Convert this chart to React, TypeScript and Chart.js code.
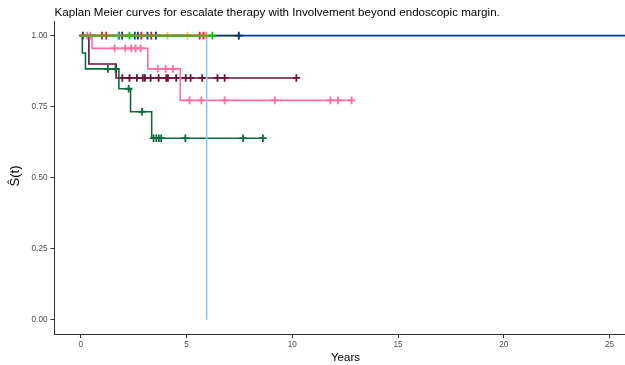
import React, { useEffect, useRef } from "react";
import { Chart, registerables } from "chart.js";

Chart.register(...registerables);

const titleText = "Kaplan Meier curves for escalate therapy with Involvement beyond endoscopic margin.";
const xAxisTitle = "Years";
const yAxisTitle = "Ŝ(t)";
const xTicks = [0, 5, 10, 15, 20, 25];
const yTicks = [0, 0.25, 0.5, 0.75, 1.0];

// each curve: event times + survival after event, censor times, end time
const greenEvents: number[] = [];
const greenSurv: number[] = [];
const greenCensor = [2.3, 6.22];
const greenEnd = 6.25;

const redEvents: number[] = [];
const redSurv: number[] = [];
const redCensor = [1.0, 1.2, 2.86, 3.33, 5.62, 5.8];
const redEnd = 5.8;

const yellowEvents: number[] = [];
const yellowSurv: number[] = [];
const yellowCensor = [4.1, 5.05, 7.47];
const yellowEnd = 7.47;

const blueEvents: number[] = [];
const blueSurv: number[] = [];
const blueCensor = [1.8, 1.95, 2.55, 2.7, 3.15, 3.55, 7.47];
const blueEnd = 26.2;

const skyEvents = [5.95];
const skySurv = [0];
const skyCensor = [1.75];
const skyEnd = 5.95;

const salmonEvents: number[] = [];
const salmonSurv: number[] = [];
const salmonCensor = [5.93];
const salmonEnd = 5.93;

const pinkEvents = [0.53, 3.17, 4.7];
const pinkSurv = [0.955, 0.883, 0.772];
const pinkCensor = [0.3, 0.45, 1.6, 2.1, 2.38, 2.59, 2.83, 3.64, 4.01, 4.35, 5.14, 5.7, 6.8, 9.17, 11.8, 12.16, 12.8];
const pinkEnd = 12.8;

const maroonEvents = [0.38, 1.67];
const maroonSurv = [0.9, 0.851];
const maroonCensor = [0.1, 1.96, 2.3, 2.65, 2.93, 3.03, 3.3, 3.68, 4.04, 4.12, 4.51, 4.96, 5.19, 5.74, 6.46, 6.8, 10.19];
const maroonEnd = 10.19;

const dgreenEvents = [0.07, 0.22, 1.8, 2.35, 3.35];
const dgreenSurv = [0.939, 0.883, 0.813, 0.732, 0.639];
const dgreenCensor = [1.28, 1.64, 2.26, 2.89, 3.44, 3.57, 3.69, 3.8, 4.94, 7.67, 8.61];
const dgreenEnd = 8.61;

type Curve = { ev: number[]; sv: number[]; cs: number[]; end: number; color: string; order: number };

const curves: Curve[] = [
  { ev: greenEvents, sv: greenSurv, cs: greenCensor, end: greenEnd, color: "#00CC00", order: 0 },
  { ev: salmonEvents, sv: salmonSurv, cs: salmonCensor, end: salmonEnd, color: "#FA8072", order: 1 },
  { ev: skyEvents, sv: skySurv, cs: skyCensor, end: skyEnd, color: "#87CEEB", order: 2 },
  { ev: redEvents, sv: redSurv, cs: redCensor, end: redEnd, color: "#EE1111", order: 3 },
  { ev: blueEvents, sv: blueSurv, cs: blueCensor, end: blueEnd, color: "#003399", order: 4 },
  { ev: yellowEvents, sv: yellowSurv, cs: yellowCensor, end: yellowEnd, color: "#F5C242", order: 5 },
  { ev: pinkEvents, sv: pinkSurv, cs: pinkCensor, end: pinkEnd, color: "#FF6F9F", order: 6 },
  { ev: dgreenEvents, sv: dgreenSurv, cs: dgreenCensor, end: dgreenEnd, color: "#0B6B3A", order: 7 },
  { ev: maroonEvents, sv: maroonSurv, cs: maroonCensor, end: maroonEnd, color: "#6B1238", order: 8 },
];

function survAt(c: Curve, t: number) {
  let s = 1;
  for (let i = 0; i < c.ev.length; i++) if (c.ev[i] <= t) s = c.sv[i];
  return s;
}

const LEFT = 54.5, TOP = 21.4, BOTTOM = 334, W = 625, H = 365;

const textPlugin = {
  id: "texts",
  afterDraw(chart: any) {
    const ctx = chart.ctx;
    ctx.save();
    ctx.fillStyle = "#000";
    ctx.font = "11.6px 'Liberation Sans', Arial, sans-serif";
    ctx.textAlign = "left";
    ctx.textBaseline = "alphabetic";
    ctx.fillText(titleText, 54.5, 16);
    ctx.font = "11.5px 'Liberation Sans', Arial, sans-serif";
    ctx.textAlign = "center";
    ctx.fillText(xAxisTitle, 345.5, 361);
    ctx.translate(19, 176);
    ctx.rotate(-Math.PI / 2);
    ctx.font = "13px 'Liberation Sans', Arial, sans-serif";
    ctx.fillText(yAxisTitle, 0, 0);
    ctx.restore();
  },
};

export default function App() {
  const ref = useRef<HTMLCanvasElement>(null);
  useEffect(() => {
    if (!ref.current) return;
    const datasets: any[] = [];
    curves.forEach((c) => {
      const pts = [{ x: 0, y: 1 }];
      c.ev.forEach((t, i) => pts.push({ x: t, y: c.sv[i] }));
      pts.push({ x: c.end, y: survAt(c, c.end) });
      datasets.push({
        type: "line",
        data: pts,
        borderColor: c.color,
        borderWidth: 1.6,
        pointRadius: 0,
        stepped: true,
        fill: false,
        order: c.order + 0.5,
      });
      datasets.push({
        type: "scatter",
        data: c.cs.map((t) => ({ x: t, y: survAt(c, t) })),
        pointStyle: "cross",
        pointRadius: 3.8,
        borderColor: c.color,
        backgroundColor: c.color,
        pointBorderWidth: 1.8,
        borderWidth: 1.8,
        showLine: false,
        order: c.order,
      });
    });
    const tickFont = { family: "'Liberation Sans', Arial, sans-serif", size: 8.2 };
    const chart = new Chart(ref.current, {
      type: "line",
      data: { datasets },
      plugins: [textPlugin],
      options: {
        responsive: false,
        animation: false,
        events: [],
        layout: { autoPadding: false, padding: { left: 0, top: TOP, right: 0, bottom: 0 } },
        plugins: { legend: { display: false }, tooltip: { enabled: false }, title: { display: false } },
        scales: {
          x: {
            type: "linear",
            min: -1.245,
            max: 25.73,
            afterBuildTicks: (s: any) => { s.ticks = xTicks.map((v) => ({ value: v })); },
            afterFit: (s: any) => { s.height = H - BOTTOM; },
            ticks: { font: tickFont, color: "#4D4D4D", padding: 1.5, maxRotation: 0, callback: (v: any) => String(v) },
            grid: { display: true, drawOnChartArea: false, drawTicks: true, tickLength: 4, color: "#333333", lineWidth: 1 },
            border: { display: true, color: "#333333", width: 1 },
          },
          y: {
            type: "linear",
            min: -0.05,
            max: 1.05,
            afterBuildTicks: (s: any) => { s.ticks = yTicks.map((v) => ({ value: v })); },
            afterFit: (s: any) => { s.width = LEFT; },
            ticks: { font: tickFont, color: "#4D4D4D", padding: 3, callback: (v: any) => Number(v).toFixed(2) },
            grid: { display: true, drawOnChartArea: false, drawTicks: true, tickLength: 4, color: "#333333", lineWidth: 1 },
            border: { display: true, color: "#333333", width: 1 },
          },
        },
      },
    } as any);
    return () => chart.destroy();
  }, []);
  return (
    <div style={{ position: "fixed", left: 0, top: 0, width: W, height: H, background: "#fff" }}>
      <canvas ref={ref} width={W} height={H} style={{ width: W, height: H, display: "block" }} />
    </div>
  );
}
